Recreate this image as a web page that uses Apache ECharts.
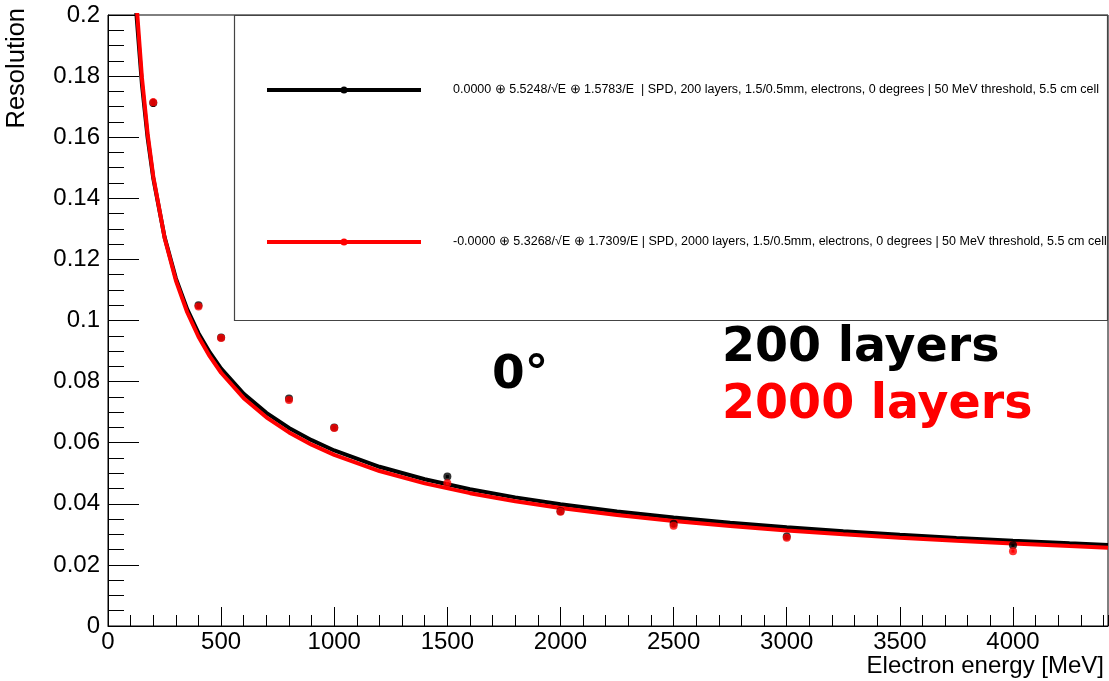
<!DOCTYPE html>
<html>
<head>
<meta charset="utf-8">
<title>Energy resolution vs electron energy</title>
<script src="https://cdn.jsdelivr.net/npm/echarts@6/dist/echarts.min.js"></script>
<style>
  html, body { margin: 0; padding: 0; background: #fff; }
  #chart { width: 1109px; height: 681px; }
</style>
</head>
<body>
<div id="chart"></div>
<script>
// Measured resolution points (energy in MeV)
const pointEnergies = [200, 400, 500, 800, 1000, 1500, 2000, 2500, 3000, 4000];
const res200 = [0.1712, 0.1050, 0.0944, 0.0745, 0.0650, 0.0489, 0.0376, 0.0335, 0.0293, 0.0264];
const err200 = [0.0013, 0.0008, 0.0006, 0.0006, 0.0006, 0.0005, 0.0005, 0.0005, 0.0005, 0.0005];
const res2000 = [0.1714, 0.1046, 0.0943, 0.0740, 0.0648, 0.0467, 0.0374, 0.0328, 0.0289, 0.0245];
const err2000 = [0.0013, 0.0008, 0.0006, 0.0006, 0.0006, 0.0005, 0.0005, 0.0005, 0.0005, 0.0005];

// Fitted resolution curves, sampled along the energy range
const curveEnergies = [110, 125, 150, 175, 200, 250, 300, 350, 400, 450, 500, 600, 700, 800, 900, 1000,
  1200, 1400, 1600, 1800, 2000, 2250, 2500, 2750, 3000, 3250, 3500, 3750, 4000, 4250, 4420];
const fit200 = [0.2199, 0.2009, 0.1773, 0.1599, 0.1466, 0.1273, 0.1138, 0.1037, 0.09585, 0.08952, 0.08427,
  0.07602, 0.06977, 0.06484, 0.06083, 0.05746, 0.05212, 0.04803, 0.04478, 0.04211, 0.03985, 0.03749,
  0.03551, 0.03381, 0.03233, 0.03103, 0.02987, 0.02884, 0.02790, 0.02706, 0.02652];
const fit2000 = [0.2248, 0.2046, 0.1795, 0.1612, 0.1472, 0.1271, 0.1131, 0.1027, 0.09469, 0.08823, 0.08290,
  0.07457, 0.06830, 0.06336, 0.05935, 0.05601, 0.05072, 0.04669, 0.04348, 0.04085, 0.03865, 0.03634,
  0.03439, 0.03273, 0.03129, 0.03002, 0.02890, 0.02789, 0.02698, 0.02616, 0.02564];

// Legend entries
const legendLabels = [
  '0.0000 \u2295 5.5248/\u221AE \u2295 1.5783/E  | SPD, 200 layers, 1.5/0.5mm, electrons, 0 degrees | 50 MeV threshold, 5.5 cm cell',
  '-0.0000 \u2295 5.3268/\u221AE \u2295 1.7309/E | SPD, 2000 layers, 1.5/0.5mm, electrons, 0 degrees | 50 MeV threshold, 5.5 cm cell'
];
const seriesColors = ['#000000', '#ff0000'];
const annotationTexts = ['0\u00B0', '200 layers', '2000 layers'];
const xTitle = 'Electron energy [MeV]';
const yTitle = 'Resolution';

const X_MAX = 4420;
const sansFont = '"Liberation Sans", Arial, Helvetica, sans-serif';

function pairs(xs, ys) { return xs.map((x, i) => [x, ys[i]]); }
function triples(xs, ys, es) { return xs.map((x, i) => [x, ys[i], es[i]]); }

function errorBars(color) {
  return function (params, api) {
    const x = api.value(0), y = api.value(1), e = api.value(2);
    const lo = api.coord([x, y - e]);
    const hi = api.coord([x, y + e]);
    return {
      type: 'line',
      shape: { x1: lo[0], y1: lo[1], x2: hi[0], y2: hi[1] },
      style: { stroke: color, lineWidth: 3 }
    };
  };
}

function curveSeries(data, color) {
  return {
    type: 'line', data: data, showSymbol: false, symbol: 'none', clip: true,
    lineStyle: { color: color, width: 4 }, silent: true, animation: false
  };
}
function pointSeries(data, color) {
  return {
    type: 'scatter', data: data, symbol: 'circle', symbolSize: 8,
    itemStyle: { color: color }, animation: false, z: 4
  };
}
function errSeries(data, color) {
  return {
    type: 'custom', data: data, renderItem: errorBars(color),
    encode: { x: 0, y: 1 }, animation: false, z: 4
  };
}

const chart = echarts.init(document.getElementById('chart'), null, { renderer: 'canvas' });

const legendGraphics = [];
const legendRows = [90, 242];
legendRows.forEach((yy, i) => {
  legendGraphics.push({
    type: 'line', shape: { x1: 267, y1: yy, x2: 421, y2: yy },
    style: { stroke: seriesColors[i], lineWidth: 4 }, z: 20
  });
  legendGraphics.push({
    type: 'circle', shape: { cx: 344, cy: yy, r: 3.5 },
    style: { fill: seriesColors[i] }, z: 21
  });
  legendGraphics.push({
    type: 'text', x: 453, y: yy,
    style: {
      text: legendLabels[i], fill: '#000', font: '12.5px "Liberation Sans Narrow", ' + sansFont,
      align: 'left', verticalAlign: 'middle'
    }, z: 21
  });
});

chart.setOption({
  animation: false,
  backgroundColor: '#fff',
  grid: {
    left: 108, top: 15, right: 1, bottom: 55,
    show: true, borderColor: '#000', borderWidth: 1, backgroundColor: 'transparent'
  },
  xAxis: [{
    type: 'value', min: 0, max: X_MAX, interval: 500,
    axisLine: { show: true, lineStyle: { color: '#000', width: 1 } },
    axisTick: { show: true, inside: true, length: 19, lineStyle: { color: '#000' } },
    axisLabel: {
      show: true, showMaxLabel: false, color: '#000', fontSize: 24, fontFamily: sansFont, margin: 4,
      formatter: v => String(v)
    },
    splitLine: { show: false }
  }, {
    type: 'value', min: 0, max: X_MAX, interval: 100, position: 'bottom',
    axisLine: { show: false },
    axisTick: { show: true, inside: true, length: 11, lineStyle: { color: '#000' } },
    axisLabel: { show: false },
    splitLine: { show: false }
  }],
  yAxis: {
    type: 'value', min: 0, max: 0.2, interval: 0.02,
    axisLine: { show: true, lineStyle: { color: '#000', width: 1 } },
    axisTick: { show: true, inside: true, length: 31, lineStyle: { color: '#000' } },
    minorTick: { show: true, splitNumber: 4, length: 16, lineStyle: { color: '#000' } },
    axisLabel: {
      show: true, color: '#000', fontSize: 24, fontFamily: sansFont, margin: 8,
      formatter: v => String(+v.toFixed(2))
    },
    splitLine: { show: false }, minorSplitLine: { show: false }
  },
  series: [
    curveSeries(pairs(curveEnergies, fit200), seriesColors[0]),
    curveSeries(pairs(curveEnergies, fit2000), seriesColors[1]),
    errSeries(triples(pointEnergies, res200, err200), seriesColors[0]),
    pointSeries(pairs(pointEnergies, res200), seriesColors[0]),
    errSeries(triples(pointEnergies, res2000, err2000), seriesColors[1]),
    pointSeries(pairs(pointEnergies, res2000), seriesColors[1])
  ],
  graphic: [
    {
      type: 'rect', shape: { x: 234.5, y: 15.5, width: 873, height: 305 },
      style: { fill: '#fff', stroke: '#444', lineWidth: 1.2 }, z: 10
    },
    ...legendGraphics,
    {
      type: 'text', x: 492, y: 376,
      style: { text: annotationTexts[0], fill: '#000', font: 'bold 47px "DejaVu Sans", sans-serif',
        align: 'left', verticalAlign: 'middle' }, z: 30
    },
    {
      type: 'text', x: 722, y: 349,
      style: { text: annotationTexts[1], fill: '#000', font: 'bold 47.5px "DejaVu Sans", sans-serif',
        align: 'left', verticalAlign: 'middle' }, z: 30
    },
    {
      type: 'text', x: 722, y: 406,
      style: { text: annotationTexts[2], fill: '#ff0000', font: 'bold 47.5px "DejaVu Sans", sans-serif',
        align: 'left', verticalAlign: 'middle' }, z: 30
    },
    {
      type: 'text', x: 1104, y: 666,
      style: { text: xTitle, fill: '#000', font: '24px ' + sansFont, align: 'right', verticalAlign: 'middle' },
      z: 30
    },
    {
      type: 'text', x: 17, y: 8, rotation: Math.PI / 2,
      style: { text: yTitle, fill: '#000', font: '25.5px ' + sansFont, align: 'right', verticalAlign: 'middle' },
      z: 30
    }
  ]
});
</script>
</body>
</html>
